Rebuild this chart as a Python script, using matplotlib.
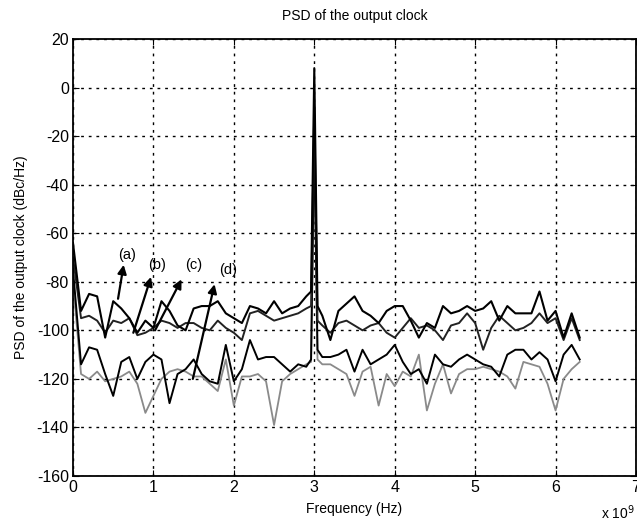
import matplotlib
matplotlib.use("Agg")
import matplotlib.pyplot as plt
import numpy as np

plt.rcParams['font.family'] = ['Liberation Sans', 'DejaVu Sans']
plt.rcParams['axes.unicode_minus'] = False

# Frequency axis (x 10^9 Hz)
freq = [0.0, 0.1, 0.2, 0.3, 0.4, 0.5, 0.6, 0.7, 0.8, 0.9,
        1.0, 1.1, 1.2, 1.3, 1.4, 1.5, 1.6, 1.7, 1.8, 1.9,
        2.0, 2.1, 2.2, 2.3, 2.4, 2.5, 2.6, 2.7, 2.8, 2.9, 2.96,
        3.0, 3.04, 3.1, 3.2, 3.3, 3.4, 3.5, 3.6, 3.7, 3.8, 3.9,
        4.0, 4.1, 4.2, 4.3, 4.4, 4.5, 4.6, 4.7, 4.8, 4.9,
        5.0, 5.1, 5.2, 5.3, 5.4, 5.5, 5.6, 5.7, 5.8, 5.9,
        6.0, 6.1, 6.2, 6.3]

psd_a = [-64, -92, -85, -86, -103, -88, -91, -95, -101, -96,
         -99, -88, -92, -98, -100, -91, -90, -90, -88, -93,
         -95, -97, -90, -91, -93, -88, -93, -91, -90, -86, -84,
         8, -90, -94, -104, -92, -89, -86, -92, -94, -97, -92,
         -90, -90, -96, -103, -97, -99, -90, -93, -92, -90,
         -92, -91, -88, -96, -90, -93, -93, -93, -84, -96,
         -92, -103, -93, -103]

psd_b = [-70, -95, -94, -96, -101, -96, -97, -95, -102, -101,
         -99, -96, -97, -99, -97, -97, -99, -100, -96, -99,
         -101, -104, -93, -92, -94, -96, -95, -94, -93, -91, -90,
         -8, -96, -98, -101, -97, -96, -98, -100, -98, -97, -101,
         -103, -99, -95, -99, -98, -100, -104, -98, -97, -93,
         -97, -108, -99, -94, -97, -100, -99, -97, -93, -97,
         -95, -104, -95, -104]

psd_c = [-75, -114, -107, -108, -118, -127, -113, -111, -120, -113,
         -110, -112, -130, -118, -116, -112, -118, -121, -122, -106,
         -121, -116, -104, -112, -111, -111, -114, -117, -114, -115, -112,
         -18, -108, -111, -111, -110, -108, -117, -108, -114, -112, -110,
         -106, -113, -118, -116, -122, -110, -114, -115, -112, -110,
         -112, -114, -115, -119, -110, -108, -108, -112, -109, -112,
         -121, -110, -106, -112]

psd_d = [-80, -118, -120, -117, -121, -120, -119, -117, -122, -134,
         -127, -120, -117, -116, -117, -119, -119, -122, -125, -112,
         -131, -119, -119, -118, -121, -139, -121, -118, -116, -114, -113,
         -28, -112, -114, -114, -116, -118, -127, -117, -115, -131, -118,
         -123, -117, -119, -110, -133, -122, -114, -126, -118, -116,
         -116, -115, -116, -117, -119, -124, -113, -114, -115, -122,
         -133, -120, -116, -113]

labels = ['(a)', '(b)', '(c)', '(d)']
label_pos = [(0.67, -69), (1.05, -73), (1.50, -73), (1.93, -75)]
arrow_tail = [(0.56, -87), (0.75, -101), (1.02, -100), (1.49, -120)]
arrow_head = [(0.63, -73), (0.97, -78), (1.35, -79), (1.76, -81)]

xticks = [0, 1, 2, 3, 4, 5, 6, 7]
yticks = [20, 0, -20, -40, -60, -80, -100, -120, -140, -160]

fig = plt.figure(figsize=(6.37, 5.29), dpi=100)
ax = fig.add_axes([73/637, 1 - 476/529, (636 - 73)/637, (476 - 39)/529])

ax.plot(freq, psd_d, color='#8a8a8a', lw=1.3)
ax.plot(freq, psd_c, color='black', lw=1.4)
ax.plot(freq, psd_b, color='#222222', lw=1.4)
ax.plot(freq, psd_a, color='black', lw=1.5)

for lab, lp, t, h in zip(labels, label_pos, arrow_tail, arrow_head):
    ax.annotate('', xy=h, xytext=t,
                arrowprops=dict(arrowstyle='-|>', color='black', lw=1.6,
                                mutation_scale=13, shrinkA=0, shrinkB=0))
    ax.text(lp[0], lp[1], lab, fontsize=10.5, ha='center', va='center')

ax.set_xlim(0, 7)
ax.set_ylim(-160, 20)
ax.set_xticks(xticks)
ax.set_yticks(yticks)
ax.tick_params(direction='in', top=True, right=True, labelsize=11.5, length=4,
               pad=3)
ax.grid(True, color='black', linestyle=(0, (2, 3.5)), lw=1.0)
for s in ax.spines.values():
    s.set_linewidth(1.3)

ax.set_title('PSD of the output clock', fontsize=10, pad=14)
ax.set_xlabel('Frequency (Hz)', fontsize=10, labelpad=5)
ax.set_ylabel('PSD of the output clock (dBc/Hz)', fontsize=10, labelpad=6)
fig.text(0.997, 0.013, 'x 10$^9$', fontsize=10, ha='right', va='bottom')

fig.savefig('out.png', dpi=100)
